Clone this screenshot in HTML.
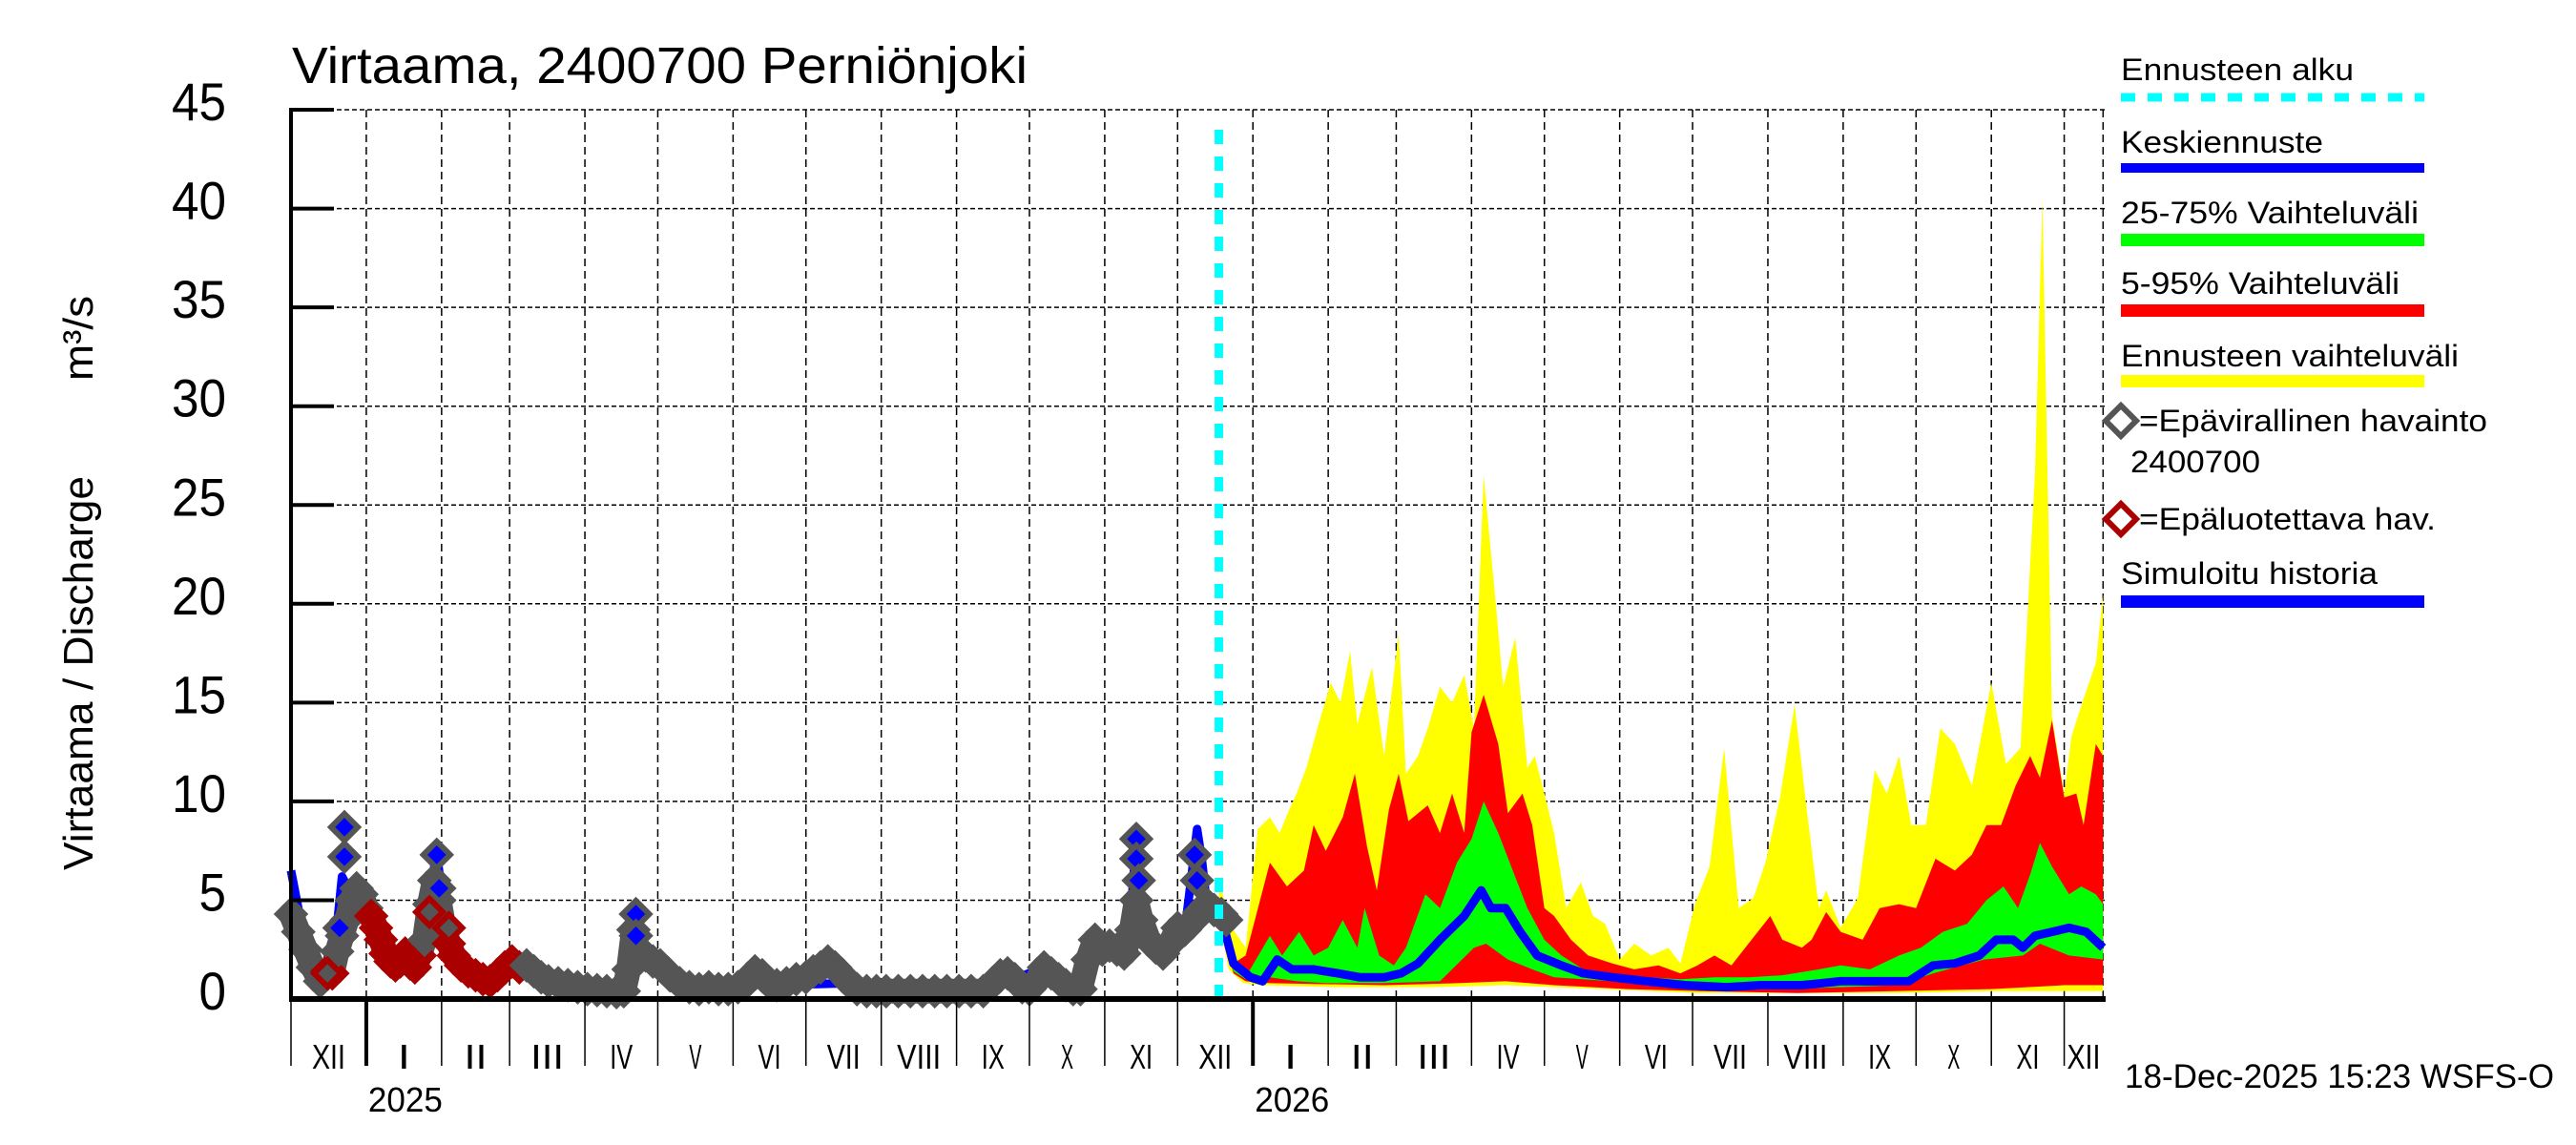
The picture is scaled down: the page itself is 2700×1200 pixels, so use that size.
<!DOCTYPE html>
<html><head><meta charset="utf-8"><title>Virtaama 2400700 Perniönjoki</title>
<style>
html,body{margin:0;padding:0;background:#fff;}
svg{display:block;font-family:"Liberation Sans",sans-serif;}
</style></head>
<body>
<svg id="chart" width="2700" height="1200" viewBox="0 0 2700 1200" xmlns="http://www.w3.org/2000/svg">
  <rect x="0" y="0" width="2700" height="1200" fill="#fff"/>
  <g id="grid"></g>
  <g id="bands"></g>
  <g id="obs"></g>
  <g id="axes"></g>
  <text x="306" y="87" font-size="54" textLength="771" lengthAdjust="spacingAndGlyphs">Virtaama, 2400700 Perniönjoki</text>
  <text transform="translate(97,912) rotate(-90)" font-size="44" textLength="413" lengthAdjust="spacingAndGlyphs">Virtaama / Discharge</text>
  <text transform="translate(97,399) rotate(-90)" font-size="44" textLength="89" lengthAdjust="spacingAndGlyphs">m³/s</text>
  <text x="2227" y="1140" font-size="35" textLength="450" lengthAdjust="spacingAndGlyphs">18-Dec-2025 15:23 WSFS-O</text>
  <g id="legend">
    <text x="2223" y="84" font-size="32" textLength="244" lengthAdjust="spacingAndGlyphs">Ennusteen alku</text>
    <line x1="2223" y1="102" x2="2541" y2="102" stroke="#00ffff" stroke-width="9" stroke-dasharray="15,13"/>
    <text x="2223" y="160" font-size="32" textLength="212" lengthAdjust="spacingAndGlyphs">Keskiennuste</text>
    <rect x="2223" y="171" width="318" height="10" fill="#0000ff"/>
    <text x="2223" y="234" font-size="32" textLength="312" lengthAdjust="spacingAndGlyphs">25-75% Vaihteluväli</text>
    <rect x="2223" y="245" width="318" height="13" fill="#00ff00"/>
    <text x="2223" y="308" font-size="32" textLength="292" lengthAdjust="spacingAndGlyphs">5-95% Vaihteluväli</text>
    <rect x="2223" y="319" width="318" height="13" fill="#ff0000"/>
    <text x="2223" y="384" font-size="32" textLength="354" lengthAdjust="spacingAndGlyphs">Ennusteen vaihteluväli</text>
    <rect x="2223" y="393" width="318" height="13" fill="#ffff00"/>
    <path d="M2207,441 L2223,425 L2239,441 L2223,457 Z" fill="#fff" stroke="#555555" stroke-width="6"/>
    <text x="2242" y="452" font-size="32" textLength="365" lengthAdjust="spacingAndGlyphs">=Epävirallinen havainto</text>
    <text x="2233" y="495" font-size="32" textLength="136" lengthAdjust="spacingAndGlyphs">2400700</text>
    <path d="M2207,544 L2223,528 L2239,544 L2223,560 Z" fill="#fff" stroke="#aa0000" stroke-width="6"/>
    <text x="2242" y="555" font-size="32" textLength="311" lengthAdjust="spacingAndGlyphs">=Epäluotettava hav.</text>
    <text x="2223" y="612" font-size="32" textLength="269" lengthAdjust="spacingAndGlyphs">Simuloitu historia</text>
    <rect x="2223" y="624" width="318" height="13" fill="#0000ff"/>
  </g>
</svg>
<script>
// ---- data ----
const yTicks = [0,5,10,15,20,25,30,35,40,45];
const monthStarts = [0,31,62,90,121,151,182,212,243,274,304,335,365,396,427,455,486,516,547,577,608,639,669,700,730,746];
const monthLabels = ["XII","I","II","III","IV","V","VI","VII","VIII","IX","X","XI","XII","I","II","III","IV","V","VI","VII","VIII","IX","X","XI","XII"];
const yearLabels = ["2025","2026"];
const yearDays = [31,396];
const forecastStartDay = 382;

const obsDays = [0,3,6,9,12,15,17,19,21,23,25,27,29,31,33,35,37,39,41,43,45,47,49,51,53,55,57,59,61,63,65,67,70,73,76,79,82,85,88,91,94,97,100,103,106,110,114,118,122,126,130,134,137,139,141,143,146,149,152,156,160,164,168,172,176,180,184,188,191,194,197,200,204,208,212,215,218,221,224,227,230,233,237,241,245,250,255,260,265,270,275,280,285,289,292,295,298,301,304,307,310,313,316,319,322,325,328,331,334,337,340,343,346,348,350,353,356,359,362,365,368,371,374,377,380,383,385];
const obsVals = [4.3,3.4,2.5,1.6,0.9,1.4,1.3,2.4,3.2,4.0,5.0,5.6,5.3,4.6,4.2,3.6,3.0,2.3,1.9,1.7,1.9,2.3,1.8,1.6,2.2,3.0,4.8,6.0,5.0,3.6,2.8,2.2,1.7,1.4,1.2,1.0,0.9,1.2,1.6,1.9,1.6,1.7,1.4,1.1,0.9,0.8,0.7,0.6,0.5,0.45,0.4,0.35,0.4,1.5,3.5,2.2,2.2,1.9,1.7,1.2,0.8,0.6,0.5,0.6,0.5,0.5,0.6,0.9,1.4,1.2,0.8,0.7,0.8,1.0,1.1,1.4,1.6,1.9,1.6,1.2,0.8,0.5,0.4,0.4,0.4,0.4,0.4,0.4,0.4,0.4,0.4,0.4,0.4,0.8,1.2,1.3,1.0,0.6,0.5,0.9,1.6,1.3,1.0,0.7,0.5,0.5,2.0,3.0,2.5,2.7,2.5,2.3,3.5,5.0,4.0,3.0,2.6,2.3,2.8,3.6,3.5,3.9,4.4,4.8,4.5,4.3,4.0];
const obsUnreliable = [15,17,33,35,37,39,41,43,45,47,49,51,53,65,67,70,73,76,79,82,85,88,91,94];
const hollowDays = [22,22,20,60,61,142,142,348,348,349,372,373];
const hollowVals = [8.7,7.2,3.6,7.3,5.6,4.3,3.2,8.1,7.1,6.0,7.3,6.0];
const hollowRedDays = [15,57,65];
const hollowRedVals = [1.3,4.4,3.6];

const simDays = [0,3,6,10,14,18,21,24,27,31,36,42,50,55,58,60,63,68,80,95,110,135,139,141,143,160,200,230,260,285,310,325,327,331,345,347,349,351,360,368,371,373,375,377,382];
const simVals = [6.5,4.6,3.0,1.5,1.2,2.5,6.2,5.5,5.2,4.0,3.0,1.8,2.0,3.0,6.0,7.4,4.5,2.0,1.0,1.7,0.8,0.4,2.0,4.4,2.2,0.8,0.7,0.8,0.4,0.4,1.6,0.5,2.5,2.8,3.0,6.5,5.5,3.0,2.3,3.5,6.5,8.6,7.0,4.8,4.5];

const yelHiDays = [382,388,393,398,403,407,411,414,418,423,428,432,436,439,445,450,456,459,464,468,473,478,483,487,491,496,499,504,509,512,516,520,525,531,536,541,547,553,560,567,572,578,584,590,596,602,607,613,619,624,629,632,638,645,652,657,662,667,673,679,685,692,700,706,712,718,721,725,730,733,738,743,746];
const yelHi = [5.9,3.5,2.6,8.6,9.2,8.4,9.6,10.4,11.7,13.9,16,15,17.6,13.9,16.8,12.3,18.5,11.4,12.3,13.7,15.8,15,16.4,13.7,26.5,20,15.8,18.3,11.7,12.3,10.4,8.4,4.6,5.9,4.2,3.8,2,2.8,2.2,2.6,1.8,4.8,6.7,12.7,4.6,5.1,6.9,10.2,14.9,9.6,4.6,5.5,3.6,5.1,11.6,10.4,12.3,8.8,8.8,13.7,12.9,10.8,16,11.9,12.7,26.7,40.5,14.3,10.4,13.3,15.2,17,20.5];
const yelLoDays = [382,386,392,400,430,470,500,540,580,620,660,700,746];
const yelLo = [4.0,1.5,0.8,0.7,0.6,0.6,0.7,0.5,0.3,0.3,0.3,0.4,0.4];
const redHiDays = [382,388,393,403,410,417,421,426,433,438,443,447,452,456,460,468,473,478,483,486,491,497,501,507,511,516,520,527,534,544,553,563,572,579,586,593,600,609,614,622,626,632,638,647,654,662,669,677,685,692,698,704,710,716,720,725,730,735,738,743,746];
const redHi = [5.2,1.8,2.2,6.9,5.7,6.5,8.8,7.5,9.2,11.4,7.7,5.5,9.6,11.4,9,9.8,8.4,10.4,8.4,13.5,15.4,12.9,9.4,10.4,8.8,4.6,4.2,3,2.2,1.8,1.5,1.7,1.3,1.7,2.2,1.7,2.8,4.2,3,2.6,3,4.4,3.4,3,4.6,4.8,4.6,7.1,6.5,7.3,8.8,8.8,10.8,12.3,11.2,14.1,10.2,10.4,8.8,12.9,12.3];
const redLoDays = [382,388,393,403,450,480,500,520,550,580,620,660,700,730,746];
const redLo = [4.1,1.3,0.9,0.8,0.7,0.8,0.9,0.7,0.5,0.4,0.3,0.4,0.5,0.7,0.7];
const grnHiDays = [382,388,393,403,408,415,421,427,433,439,442,448,454,459,467,473,480,486,491,497,503,509,516,523,532,544,558,572,586,600,614,629,638,650,662,671,680,690,698,705,711,716,720,725,732,737,743,746];
const grnHi = [4.9,1.5,1.1,3.2,2.2,3.4,2.2,2.6,4,2.6,4.6,2.2,1.7,2.6,5.3,4.6,6.9,8.1,10,8.4,6.5,4.6,3,2.2,1.5,1.3,1.1,1,1.1,1.1,1.2,1.5,1.7,1.5,2.2,2.6,3.4,3.8,5,5.7,4.6,6.3,7.9,6.7,5.3,5.7,5.3,4.8];
const grnLoDays = [382,388,393,403,414,426,450,473,487,492,501,511,520,544,567,591,614,638,662,676,697,713,720,732,746];
const grnLo = [4.4,1.4,1.0,1.1,0.9,0.8,0.8,0.9,2.6,2.8,2.0,1.5,1.1,0.9,0.6,0.5,0.5,0.6,0.7,1.3,2.0,2.2,2.8,2.2,2.0];
const medDays = [382,388,395,400,406,412,421,431,440,450,457,464,473,483,490,494,500,506,513,523,532,544,558,574,591,605,622,638,652,666,676,685,695,702,709,713,718,725,732,739,746];
const medVals = [4.6,1.8,1.1,0.9,2.0,1.5,1.5,1.3,1.1,1.1,1.3,1.8,3.0,4.2,5.5,4.6,4.6,3.4,2.2,1.7,1.3,1.1,0.9,0.7,0.6,0.7,0.7,0.9,0.9,0.9,1.7,1.8,2.2,3.0,3.0,2.6,3.2,3.4,3.6,3.4,2.6];

// ---- axes ----
const X0 = 305, XPD = 2.546, Y0 = 1047, YPU = 20.71, XR = 2207;
function xs(d){ return X0 + d * XPD; }
function ys(v){ return Y0 - v * YPU; }
const NS = "http://www.w3.org/2000/svg";
function mk(tag, parent, attrs){
  const e = document.createElementNS(NS, tag);
  for (const k in attrs) e.setAttribute(k, attrs[k]);
  parent.appendChild(e);
  return e;
}
const grid = document.getElementById('grid');
const axes = document.getElementById('axes');
const bands = document.getElementById('bands');
const obs = document.getElementById('obs');

yTicks.forEach(v => {
  const g = mk('line', grid, {x1: X0, x2: XR, y1: ys(v), y2: ys(v), stroke: '#000', 'stroke-width': 1.5, 'stroke-dasharray': '5,3'});
  
  
  const t = mk('line', axes, {x1: X0, x2: X0 + 45, y1: ys(v), y2: ys(v), stroke: '#000', 'stroke-width': 4});
  
  
  const s = String(v);
  const l = mk('text', axes, {x: 237, y: ys(v) + 11, 'font-size': 56, 'text-anchor': 'end', textLength: 28.5 * s.length, lengthAdjust: 'spacingAndGlyphs'});
  l.textContent = s;
  
  
});
monthStarts.forEach((d, i) => {
  if (d > 0) {
    const g = mk('line', grid, {x1: xs(d), x2: xs(d), y1: ys(45), y2: Y0, stroke: '#000', 'stroke-width': 1.5, 'stroke-dasharray': '8,5'});
    
    
  }
  if (i < monthStarts.length - 1) {
    const isYear = yearDays.indexOf(d) >= 0;
    const t = mk('line', axes, {x1: xs(d), x2: xs(d), y1: Y0, y2: 1117, stroke: '#000', 'stroke-width': isYear ? 4 : 1.5});
    
    
    const mid = (d + monthStarts[i + 1]) / 2;
    const lab = monthLabels[i];
    const l = mk('text', axes, {x: xs(mid), y: 1120, 'font-size': 36, 'text-anchor': 'middle', textLength: 11 * lab.length + 2, lengthAdjust: 'spacingAndGlyphs'});
    l.textContent = lab;
    
    
  }
});
yearDays.forEach((d, i) => {
  const l = mk('text', axes, {x: xs(d) + 2, y: 1165, 'font-size': 36, textLength: 78, lengthAdjust: 'spacingAndGlyphs'});
  l.textContent = yearLabels[i];
  
  
});
const ax1 = mk('line', axes, {x1: X0, x2: X0, y1: ys(45) - 2, y2: Y0 + 3, stroke: '#000', 'stroke-width': 4});


const ax2 = mk('line', axes, {x1: X0 - 2, x2: XR, y1: Y0, y2: Y0, stroke: '#000', 'stroke-width': 6});



// ---- bands ----
function bandPath(hd, hv, ld, lv){
  let p = '';
  hd.forEach((d, i) => { p += (i ? 'L' : 'M') + xs(d).toFixed(1) + ',' + ys(hv[i]).toFixed(1); });
  for (let i = ld.length - 1; i >= 0; i--) p += 'L' + xs(ld[i]).toFixed(1) + ',' + ys(lv[i]).toFixed(1);
  return p + 'Z';
}
const by = mk('path', bands, {d: bandPath(yelHiDays, yelHi, yelLoDays, yelLo), fill: '#ffff00'});


const br = mk('path', bands, {d: bandPath(redHiDays, redHi, redLoDays, redLo), fill: '#ff0000'});


const bg = mk('path', bands, {d: bandPath(grnHiDays, grnHi, grnLoDays, grnLo), fill: '#00ff00'});


function linePath(ds, vs){
  return ds.map((d, i) => (i ? 'L' : 'M') + xs(d).toFixed(1) + ',' + ys(vs[i]).toFixed(1)).join('');
}
const ml = mk('path', bands, {d: linePath(medDays, medVals), fill: 'none', stroke: '#0000ff', 'stroke-width': 9, 'stroke-linejoin': 'round'});



// ---- observations ----
const sl = mk('path', obs, {d: linePath(simDays, simVals), fill: 'none', stroke: '#0000ff', 'stroke-width': 9, 'stroke-linejoin': 'round'});


function diamond(d, v, col, fill, name){
  const cx = xs(d), cy = ys(v), r = 14;
  const e = mk('path', obs, {d: `M${cx - r},${cy}L${cx},${cy - r}L${cx + r},${cy}L${cx},${cy + r}Z`, fill: fill, stroke: col, 'stroke-width': 6});
  
  
}
for (let i = 0; i < obsDays.length - 1; i++) {
  const red = obsUnreliable.indexOf(obsDays[i]) >= 0 && obsUnreliable.indexOf(obsDays[i + 1]) >= 0;
  const seg = mk('line', obs, {x1: xs(obsDays[i]), y1: ys(obsVals[i]), x2: xs(obsDays[i + 1]), y2: ys(obsVals[i + 1]), stroke: red ? '#aa0000' : '#555555', 'stroke-width': 26, 'stroke-linecap': 'round'});
  
  
}
obsDays.forEach((d, i) => {
  const red = obsUnreliable.indexOf(d) >= 0;
  diamond(d, obsVals[i], red ? '#aa0000' : '#555555', red ? '#aa0000' : '#555555', red ? 'unreliable-observation' : 'unofficial-observation');
});
hollowDays.forEach((d, i) => diamond(d, hollowVals[i], '#555555', '#0000ff', 'unofficial-observation-peak'));
hollowRedDays.forEach((d, i) => diamond(d, hollowRedVals[i], '#aa0000', '#555555', 'unreliable-observation-peak'));

const fl = mk('line', obs, {x1: xs(forecastStartDay), x2: xs(forecastStartDay), y1: Y0, y2: 124, stroke: '#00ffff', 'stroke-width': 9, 'stroke-dasharray': '15,13'});


</script>
</body></html>
